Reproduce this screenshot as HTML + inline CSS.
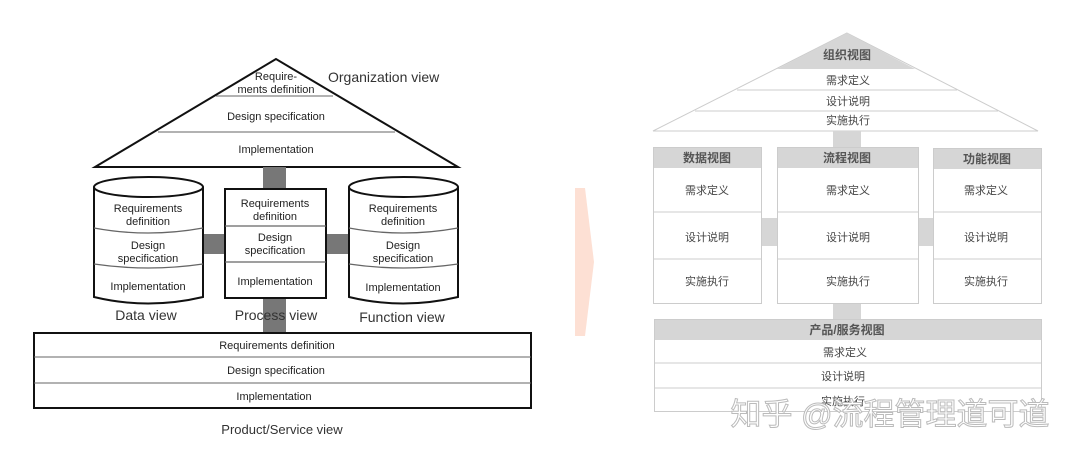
<!DOCTYPE html>
<html><head><meta charset="utf-8"><style>
body{margin:0;background:#fff;width:1080px;height:459px;overflow:hidden}
svg{display:block}
.l{font-family:"Liberation Sans",sans-serif;font-size:11px;fill:#222;text-anchor:middle}
.c{font-family:"Liberation Sans","Noto Sans CJK SC",sans-serif;font-size:11px;fill:#444;text-anchor:middle}
.h{font-family:"Liberation Sans","Noto Sans CJK SC",sans-serif;font-size:12px;font-weight:bold;fill:#555;text-anchor:middle}
</style></head><body>
<svg width="1080" height="459" viewBox="0 0 1080 459">
<!-- LEFT -->
<g stroke="#111" fill="none" stroke-width="2">
<polygon points="276,59 95,167 458,167" fill="#fff"/>
</g>
<line x1="216" y1="96" x2="333" y2="96" stroke="#666" stroke-width="1"/>
<line x1="158" y1="132" x2="395" y2="132" stroke="#666" stroke-width="1"/>
<text class="l" x="276" y="80">Require-</text>
<text class="l" x="276" y="93">ments definition</text>
<text class="l" x="276" y="120">Design specification</text>
<text class="l" x="276" y="153">Implementation</text>
<text x="328" y="82" font-family="Liberation Sans" font-size="14" fill="#333">Organization view</text>
<rect x="263" y="167" width="23" height="23" fill="#777"/>
<rect x="263" y="298" width="23" height="35" fill="#777"/>
<rect x="203" y="234" width="22" height="20" fill="#777"/>
<rect x="326" y="234" width="23" height="20" fill="#777"/>
<!-- data cylinder -->
<g stroke="#111" stroke-width="2" fill="#fff">
<path d="M94,187 L94,297 Q148,310 203,297 L203,187"/>
<ellipse cx="148.5" cy="187" rx="54.5" ry="10"/>
<path d="M349,187 L349,297 Q403,310 458,297 L458,187"/>
<ellipse cx="403.5" cy="187" rx="54.5" ry="10"/>
<rect x="225" y="189" width="101" height="109"/>
</g>
<g stroke="#666" stroke-width="1.3" fill="none">
<path d="M94,228 Q148,238 203,228"/><path d="M94,264 Q148,272 203,264"/>
<path d="M349,228 Q403,238 458,228"/><path d="M349,264 Q403,272 458,264"/>
<line x1="225" y1="226" x2="326" y2="226"/><line x1="225" y1="262" x2="326" y2="262"/>
</g>
<text class="l" x="148" y="212">Requirements</text><text class="l" x="148" y="225">definition</text>
<text class="l" x="148" y="249">Design</text><text class="l" x="148" y="262">specification</text>
<text class="l" x="148" y="290">Implementation</text>
<text class="l" x="403" y="212">Requirements</text><text class="l" x="403" y="225">definition</text>
<text class="l" x="403" y="249">Design</text><text class="l" x="403" y="262">specification</text>
<text class="l" x="403" y="291">Implementation</text>
<text class="l" x="275" y="207">Requirements</text><text class="l" x="275" y="220">definition</text>
<text class="l" x="275" y="241">Design</text><text class="l" x="275" y="254">specification</text>
<text class="l" x="275" y="285">Implementation</text>
<text x="146" y="320" font-family="Liberation Sans" font-size="14" fill="#333" text-anchor="middle">Data view</text>
<text x="276" y="320" font-family="Liberation Sans" font-size="14" fill="#333" text-anchor="middle">Process view</text>
<text x="402" y="322" font-family="Liberation Sans" font-size="14" fill="#333" text-anchor="middle">Function view</text>
<rect x="34" y="333" width="497" height="75" fill="#fff" stroke="#111" stroke-width="2"/>
<line x1="34" y1="357" x2="531" y2="357" stroke="#666"/><line x1="34" y1="383" x2="531" y2="383" stroke="#666"/>
<text class="l" x="277" y="349">Requirements definition</text>
<text class="l" x="276" y="374">Design specification</text>
<text class="l" x="274" y="400">Implementation</text>
<text x="282" y="434" font-family="Liberation Sans" font-size="13" fill="#333" text-anchor="middle">Product/Service view</text>
<!-- arrow -->
<polygon points="575,188 585,188 594,262 585,336 575,336" fill="#fde0d4"/>
<!-- RIGHT -->
<polygon points="847,33 653,131 1038,131" fill="#fff" stroke="#ccc"/>
<polygon points="847,33 777,69 915,69" fill="#d6d6d6"/>
<line x1="737" y1="90" x2="957" y2="90" stroke="#ccc"/>
<line x1="695" y1="111" x2="998" y2="111" stroke="#ccc"/>
<text class="h" x="847" y="59">组织视图</text>
<text class="c" x="848" y="84">需求定义</text>
<text class="c" x="848" y="105">设计说明</text>
<text class="c" x="848" y="124">实施执行</text>
<rect x="833" y="131" width="28" height="17" fill="#d6d6d6"/>
<rect x="833" y="304" width="28" height="15" fill="#d6d6d6"/>
<rect x="761" y="218" width="16" height="28" fill="#d6d6d6"/>
<rect x="918" y="218" width="15" height="28" fill="#d6d6d6"/>
<g stroke="#ccc" fill="#fff">
<rect x="653.5" y="147.5" width="108" height="156"/>
<rect x="777.5" y="147.5" width="141" height="156"/>
<rect x="933.5" y="148.5" width="108" height="155"/>
<rect x="654.5" y="319.5" width="387" height="92"/>
</g>
<g fill="#d6d6d6">
<rect x="654" y="148" width="107" height="20"/>
<rect x="778" y="148" width="140" height="20"/>
<rect x="934" y="149" width="107" height="20"/>
<rect x="655" y="320" width="386" height="20"/>
</g>
<g stroke="#ccc">
<line x1="653" y1="212" x2="761" y2="212"/><line x1="653" y1="259" x2="761" y2="259"/>
<line x1="777" y1="212" x2="918" y2="212"/><line x1="777" y1="259" x2="918" y2="259"/>
<line x1="933" y1="212" x2="1041" y2="212"/><line x1="933" y1="259" x2="1041" y2="259"/>
<line x1="654" y1="363" x2="1041" y2="363"/><line x1="654" y1="388" x2="1041" y2="388"/>
</g>
<text class="h" x="707" y="162">数据视图</text>
<text class="h" x="847" y="162">流程视图</text>
<text class="h" x="987" y="163">功能视图</text>
<text class="h" x="847" y="334">产品/服务视图</text>
<text class="c" x="707" y="194">需求定义</text><text class="c" x="707" y="241">设计说明</text><text class="c" x="707" y="285">实施执行</text>
<text class="c" x="848" y="194">需求定义</text><text class="c" x="848" y="241">设计说明</text><text class="c" x="848" y="285">实施执行</text>
<text class="c" x="986" y="194">需求定义</text><text class="c" x="986" y="241">设计说明</text><text class="c" x="986" y="285">实施执行</text>
<text class="c" x="845" y="356">需求定义</text><text class="c" x="843" y="380">设计说明</text><text class="c" x="843" y="405">实施执行</text>
<text x="890" y="425" font-family="Liberation Sans","Noto Sans CJK SC",sans-serif font-size="31" fill="#fff" stroke="#bbb" stroke-width="1" text-anchor="middle" style="font-family:'Liberation Sans','Noto Sans CJK SC',sans-serif">知乎 @流程管理道可道</text>
</svg>
</body></html>
